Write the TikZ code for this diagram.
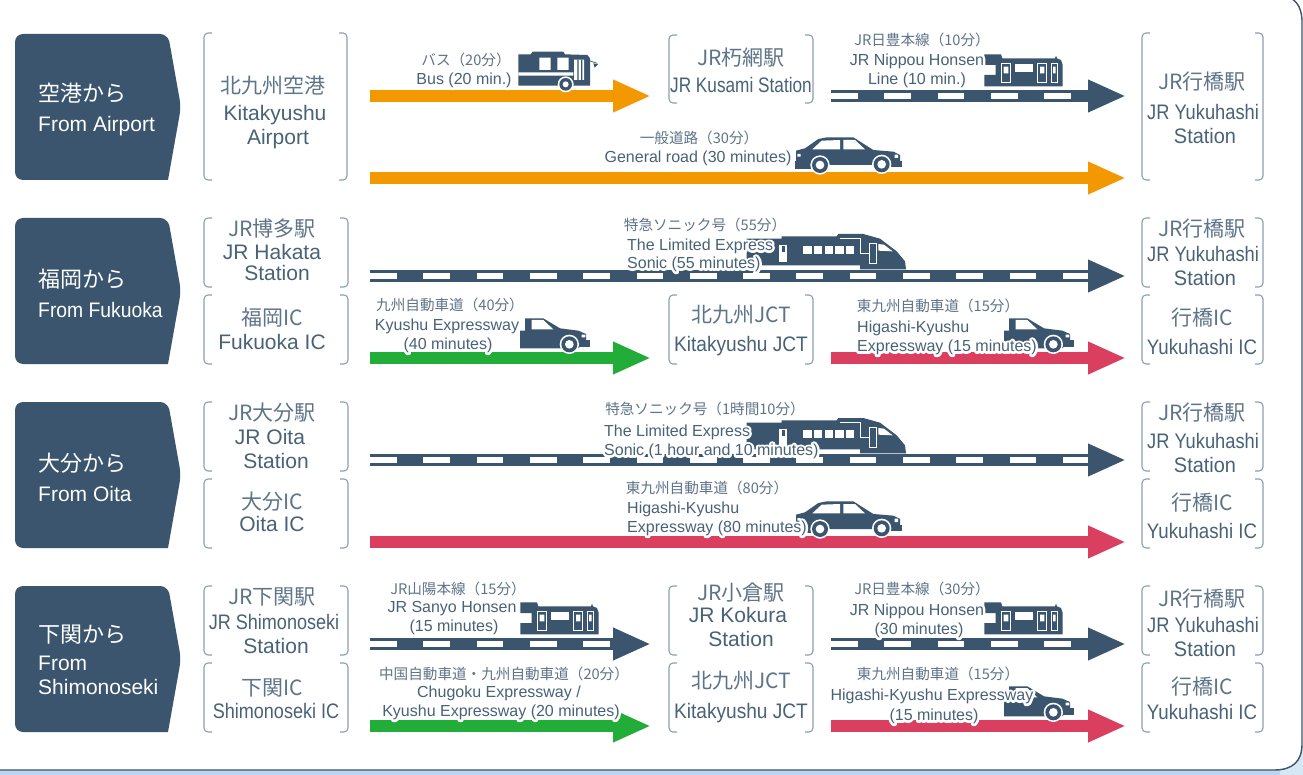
\documentclass[tikz,border=0pt]{standalone}
\usepackage{fontspec}
\usepackage{graphicx}
\usetikzlibrary{arrows.meta}
\setmainfont{Liberation Sans}
\newfontfamily\jpf{Noto Sans CJK JP}
\newfontfamily\haloL[FakeBold=30]{Liberation Sans}
\definecolor{navy}{HTML}{3A556D}
\definecolor{txt}{HTML}{486277}
\definecolor{txtj}{HTML}{5E7488}
\definecolor{brk}{HTML}{8BA0B3}
\definecolor{orng}{HTML}{F39800}
\definecolor{grn}{HTML}{22AC38}
\definecolor{redd}{HTML}{DA3F5F}
\definecolor{sky}{HTML}{BBD6EE}
\tikzset{
 road/.style={line width=12pt,-{Triangle[length=38pt,width=30pt]},shorten >=0pt},
 dashmark/.style={white,line width=5.6pt,dash pattern=on 26.7pt off 26.6pt},
 brack/.style={brk,line width=1.1pt,rounded corners=4pt},
 head/.style={fill=navy,draw=none},
 hdtxt/.style={white,inner sep=0pt,anchor=west,text height=15pt,text depth=4pt,yshift=-2pt},
 bigtxt/.style={txt,inner sep=0pt,anchor=center,text height=15pt,text depth=4pt,yshift=-2pt},
 smtxt/.style={inner sep=0pt,text height=10pt,text depth=3pt,yshift=-2pt,font=\fontsize{16}{16}\selectfont},
 smjp/.style={inner sep=0pt,text height=10pt,text depth=3pt,yshift=-2pt,xshift=3pt,font=\fontsize{14.6}{14.6}\selectfont},
 win/.style={fill=white},
 cut/.style={draw=white,line width=.9pt},
}
% bracket pair
\newcommand\brackbox[4]{%
 \draw[brack] ({#1+8},#2) -- (#1,#2) -- (#1,#4) -- ({#1+8},#4);
 \draw[brack] ({#3-8},#2) -- (#3,#2) -- (#3,#4) -- ({#3-8},#4);}
% pentagon
\newcommand\headbox[2]{%
 \path[head] (15,{#1+70}) [rounded corners=8pt] -- (15,#1) -- (168,#1) -- (181,{(#1+#2)/2}) [sharp corners] -- (168,#2) [rounded corners=8pt] -- (15,#2) -- cycle;}
% arrows
\newcommand\plainroad[5]{%
 \coordinate (#1-s) at (#3,#5); \coordinate (#1-e) at (#4,#5);
 \draw[road,#2] (#1-s) -- (#1-e);}
\newcommand\dashroad[4]{%
 \coordinate (#1-s) at (#2,#4); \coordinate (#1-e) at (#3,#4); \coordinate (#1-d) at ({#3-38},#4);
 \draw[road,navy] (#1-s) -- (#1-e);
 \draw[dashmark] (#1-s) -- (#1-d);}
% labels
\newcommand\jl[5]{\node[smjp,txtj,anchor=#4] (#1) at (#2,#3) {\jpf #5};}
\newcommand\el[5]{%
 \node[smtxt,white,anchor=#4] (#1h) at (#2,#3) {\special{pdf:code 1 j 1 J}\haloL #5};
 \node[smtxt,txt,anchor=#4] (#1) at (#2,#3) {#5};}
\newcommand\bj[4]{\node[bigtxt,font=\fontsize{21}{21}\selectfont\jpf,txtj] (#1) at (#2,#3) {#4};}
\newcommand\be[5]{\node[bigtxt,font=\fontsize{21}{21}\selectfont] (#1) at (#2,#3) {\scalebox{#4}[1]{#5}};}
% icons: local coordinates are 3x pixels
\newcommand\busicon[2]{\begin{scope}[shift={(#1,#2)},scale=1/3]
 \fill[navy] (25,28) -- (62,28) -- (68,20) -- (160,20) -- (165,28) -- (232,30) -- (240,40) -- (240,122) -- (25,122) -- cycle;
 \fill[win] (88,38) rectangle (122,75) (142,38) rectangle (176,75) (25,82) rectangle (190,92) (192,44) rectangle (222,105);
 \fill[navy] (202,44) rectangle (206,105) (213,44) rectangle (217,105);
 \fill[white] (167,118) circle (24);
 \fill[navy] (167,118) circle (19);
 \fill[white] (167,118) circle (9);
 \draw[navy,line width=.7pt] (232,45) -- (262,55);
 \fill[navy] (250,55) -- (264,58) -- (254,68) -- cycle;
\end{scope}}
\newcommand\trainicon[2]{\begin{scope}[shift={(#1,#2)},scale=1/3]
 \fill[navy] (28,28) -- (78,28) -- (82,40) -- (240,40) -- (243,32) -- (246,40) -- (258,45) -- (263,60) -- (263,124) -- (28,124) -- (28,90) -- (62,90) -- (62,60) -- (28,60) -- cycle;
 \fill[win] (120,57) rectangle (174,82);
 \draw[cut] (78,55) rectangle (106,112) (187,55) rectangle (215,112) (230,55) rectangle (246,112);
 \fill[win] (86,65) rectangle (100,85) (195,65) rectangle (208,85) (234,65) rectangle (242,85);
 \fill[white] (180,126) rectangle (250,130);
\end{scope}}
\newcommand\caricon[2]{\begin{scope}[shift={(#1,#2)},scale=1/3]
 \fill[navy] (18,62) -- (45,55) -- (85,27) -- (110,22) -- (190,22) -- (250,60) -- (310,65) -- (330,75) -- (330,95) -- (305,105) -- (60,105) -- (18,95) -- cycle;
 \fill[win] (67,58) -- (95,32) -- (150,30) -- (150,58) -- cycle (160,30) -- (195,30) -- (225,58) -- (160,58) -- cycle (22,72) rectangle (32,80) (314,74) rectangle (324,84);
 \draw[fill=white,navy,line width=.8pt] (15,95) rectangle (65,114) (302,93) rectangle (335,110);
 \foreach \cx/\cy in {90/105,275/103}{
  \fill[white] (\cx,\cy) circle (29);
  \fill[navy] (\cx,\cy) circle (24);
  \fill[white] (\cx,\cy) circle (13);}
\end{scope}}
\newcommand\halfcar[2]{\begin{scope}[shift={(#1,#2)},scale=1/3]
 \fill[navy] (30,62) -- (45,62) -- (45,25) -- (100,25) -- (150,55) -- (205,62) -- (228,72) -- (228,92) -- (205,115) -- (30,115) -- cycle;
 \fill[win] (65,30) -- (100,30) -- (130,58) -- (65,58) -- cycle (215,74) rectangle (226,82);
 \draw[fill=white,navy,line width=.8pt] (205,90) rectangle (237,110);
 \fill[white] (178,103) circle (29);
 \fill[navy] (178,103) circle (24);
 \fill[white] (178,103) circle (13);
\end{scope}}
\newcommand\sonicicon[2]{\begin{scope}[shift={(#1,#2)},scale=1/3]
 \fill[navy] (20,32) -- (125,32) -- (125,25) -- (290,25) -- (295,18) -- (370,18) -- (420,32) -- (470,70) -- (495,100) -- (498,124) -- (360,124) -- (360,112) -- (20,112) -- cycle;
 \fill[win] (100,113) rectangle (355,125);
 \fill[win] (118,50) rectangle (142,103);
 \fill[navy] (125,55) rectangle (135,72);
 \foreach \wx in {190,222,254,286,318}{\fill[win] (\wx,53) rectangle ({\wx+25},78);}
 \draw[cut] (300,32) -- (362,32) -- (362,75) -- (388,75);
 \draw[cut] (388,45) rectangle (408,105);
 \fill[win] (415,48) -- (432,50) -- (458,70) -- (415,68) -- cycle;
\end{scope}}
\begin{document}
\begin{tikzpicture}[x=1pt,y=-1pt]
\useasboundingbox (0,0) rectangle (1303,775);
\fill[white] (0,0) rectangle (1303,775);
\fill[sky] (0,765) rectangle (1303,775);
\fill[sky!60] (1280,745) rectangle (1303,775);
\begin{scope}
\clip (0,0) rectangle (1303,775);
\draw[navy,fill=white,line width=1.4pt] (-5,-4) -- (1280,-4) .. controls (1295,-4) and (1302,6) .. (1302,22) -- (1302,744) .. controls (1302,762) and (1292,770) .. (1274,770) -- (-5,770);
\end{scope}

% left headers
\headbox{34}{180}\headbox{218}{364}\headbox{402}{548}\headbox{586}{732}
\node[hdtxt,font=\fontsize{22}{22}\selectfont\jpf] (h1a) at (38,94) {空港から};
\node[hdtxt,font=\fontsize{21}{21}\selectfont] (h1b) at (38,124) {From Airport};
\node[hdtxt,font=\fontsize{22}{22}\selectfont\jpf] (h2a) at (38,280) {福岡から};
\node[hdtxt,font=\fontsize{21}{21}\selectfont] (h2b) at (38,310) {\scalebox{.92}[1]{From Fukuoka}};
\node[hdtxt,font=\fontsize{22}{22}\selectfont\jpf] (h3a) at (38,464) {大分から};
\node[hdtxt,font=\fontsize{21}{21}\selectfont] (h3b) at (38,494) {From Oita};
\node[hdtxt,font=\fontsize{22}{22}\selectfont\jpf] (h4a) at (38,635) {下関から};
\node[hdtxt,font=\fontsize{21}{21}\selectfont] (h4b) at (38,663) {From};
\node[hdtxt,font=\fontsize{21}{21}\selectfont] (h4c) at (38,687) {Shimonoseki};

% brackets
\brackbox{204}{33}{347}{180}
\brackbox{669}{35}{813}{103}
\brackbox{1142}{33}{1263}{180}
\brackbox{204}{218}{348}{287}\brackbox{204}{295}{348}{364}
\brackbox{669}{295}{813}{364}
\brackbox{1142}{218}{1263}{287}\brackbox{1142}{295}{1263}{364}
\brackbox{204}{402}{348}{471}\brackbox{204}{479}{348}{548}
\brackbox{1142}{402}{1263}{471}\brackbox{1142}{479}{1263}{548}
\brackbox{204}{586}{348}{655}\brackbox{204}{663}{348}{732}
\brackbox{669}{586}{813}{655}\brackbox{669}{663}{813}{732}
\brackbox{1142}{586}{1263}{655}\brackbox{1142}{663}{1263}{732}

% arrows
\plainroad{r1a}{orng}{370}{651}{96}
\dashroad{r1b}{831}{1126}{96}
\plainroad{r1c}{orng}{370}{1126}{178}
\dashroad{r2a}{370}{1126}{276}
\plainroad{r2b}{grn}{370}{651}{358}
\plainroad{r2c}{redd}{831}{1126}{358}
\dashroad{r3a}{370}{1126}{460}
\plainroad{r3b}{redd}{370}{1126}{542}
\dashroad{r4a}{370}{651}{644}
\dashroad{r4b}{831}{1126}{644}
\plainroad{r4c}{grn}{370}{651}{726}
\plainroad{r4d}{redd}{831}{1126}{726}

% icons
\busicon{510}{45}
\trainicon{975}{45}
\caricon{790}{130}
\sonicicon{740}{228}
\halfcar{510}{310}
\halfcar{994}{310}
\sonicicon{740}{412}
\caricon{790}{494}
\trainicon{511}{593}
\trainicon{975}{593}
\halfcar{994}{678}

% station labels, left
\bj{a1}{273}{86}{北九州空港}
\be{a2}{275}{113}{1}{Kitakyushu}
\be{a3}{278}{137}{1}{Airport}
\bj{b1}{272}{229}{JR博多駅}
\be{b2}{272}{252}{1}{JR Hakata}
\be{b3}{277}{273}{1}{Station}
\bj{c1}{272}{318}{福岡IC}
\be{c2}{272}{342}{1}{Fukuoka IC}
\bj{d1}{272}{413}{JR大分駅}
\be{d2}{270}{437}{1}{JR Oita}
\be{d3}{276}{461}{1}{Station}
\bj{e1}{272}{502}{大分IC}
\be{e2}{272}{524}{1}{Oita IC}
\bj{f1}{272}{597}{JR下関駅}
\be{f2}{274}{622}{.86}{JR Shimonoseki}
\be{f3}{276}{646}{1}{Station}
\bj{g1}{272}{688}{下関IC}
\be{g2}{276}{711}{.86}{Shimonoseki IC}
% middle
\bj{m1}{741}{58}{JR朽網駅}
\be{m2}{741}{85}{.82}{JR Kusami Station}
\bj{m3}{741}{315}{北九州JCT}
\be{m4}{741}{344}{.91}{Kitakyushu JCT}
\bj{m5}{741}{593}{JR小倉駅}
\be{m6}{738}{615}{1}{JR Kokura}
\be{m7}{741}{639}{1}{Station}
\bj{m8}{741}{681}{北九州JCT}
\be{m9}{741}{711}{.91}{Kitakyushu JCT}
% right
\bj{y1a}{1202}{82}{JR行橋駅}
\be{y1b}{1203}{112}{.87}{JR Yukuhashi}
\be{y1c}{1205}{136}{.95}{Station}
\bj{y2a}{1202}{229}{JR行橋駅}
\be{y2b}{1203}{254}{.87}{JR Yukuhashi}
\be{y2c}{1205}{278}{.95}{Station}
\bj{y3a}{1202}{318}{行橋IC}
\be{y3b}{1202}{347}{.89}{Yukuhashi IC}
\bj{y4a}{1202}{413}{JR行橋駅}
\be{y4b}{1203}{441}{.87}{JR Yukuhashi}
\be{y4c}{1205}{465}{.95}{Station}
\bj{y5a}{1202}{503}{行橋IC}
\be{y5b}{1202}{531}{.89}{Yukuhashi IC}
\bj{y6a}{1202}{599}{JR行橋駅}
\be{y6b}{1203}{625}{.87}{JR Yukuhashi}
\be{y6c}{1205}{649}{.95}{Station}
\bj{y7a}{1202}{687}{行橋IC}
\be{y7b}{1202}{712}{.89}{Yukuhashi IC}

% route labels
\jl{t1}{463}{60}{center}{バス（20分）}
\el{t2}{464}{79}{center}{Bus (20 min.)}
\jl{t3}{696}{138}{center}{一般道路（30分）}
\el{t4}{698}{157}{center}{General road (30 minutes)}
\jl{t5}{919}{40}{center}{JR日豊本線（10分）}
\el{t6}{917}{60}{center}{JR Nippou Honsen}
\el{t7}{917}{79}{center}{Line (10 min.)}
\jl{t8}{702}{225}{center}{特急ソニック号（55分）}
\el{t9}{627}{245}{west}{The Limited Express}
\el{t10}{627}{263}{west}{Sonic (55 minutes)}
\jl{t11}{447}{305}{center}{九州自動車道（40分）}
\el{t12}{447}{325}{center}{Kyushu Expressway}
\el{t13}{448}{344}{center}{(40 minutes)}
\jl{t14}{935}{306}{center}{東九州自動車道（15分）}
\el{t15}{857}{327}{west}{Higashi-Kyushu}
\el{t16}{857}{346}{west}{Expressway (15 minutes)}
\jl{t17}{702}{409}{center}{特急ソニック号（1時間10分）}
\el{t18}{604}{431}{west}{The Limited Express}
\el{t19}{604}{450}{west}{Sonic (1 hour and 10 minutes)}
\jl{t20}{704}{488}{center}{東九州自動車道（80分）}
\el{t21}{627}{508}{west}{Higashi-Kyushu}
\el{t22}{627}{527}{west}{Expressway (80 minutes)}
\jl{t23}{455}{589}{center}{JR山陽本線（15分）}
\el{t24}{452}{607}{center}{JR Sanyo Honsen}
\el{t25}{454}{626}{center}{(15 minutes)}
\jl{t26}{919}{589}{center}{JR日豊本線（30分）}
\el{t27}{917}{610}{center}{JR Nippou Honsen}
\el{t28}{919}{629}{center}{(30 minutes)}
\jl{t29}{501}{674}{center}{中国自動車道・九州自動車道（20分）}
\el{t30}{499}{692}{center}{Chugoku Expressway /}
\el{t31}{501}{711}{center}{Kyushu Expressway (20 minutes)}
\jl{t32}{935}{674}{center}{東九州自動車道（15分）}
\el{t33}{932}{695}{center}{Higashi-Kyushu Expressway}
\el{t34}{934}{715}{center}{(15 minutes)}
\end{tikzpicture}
\end{document}
